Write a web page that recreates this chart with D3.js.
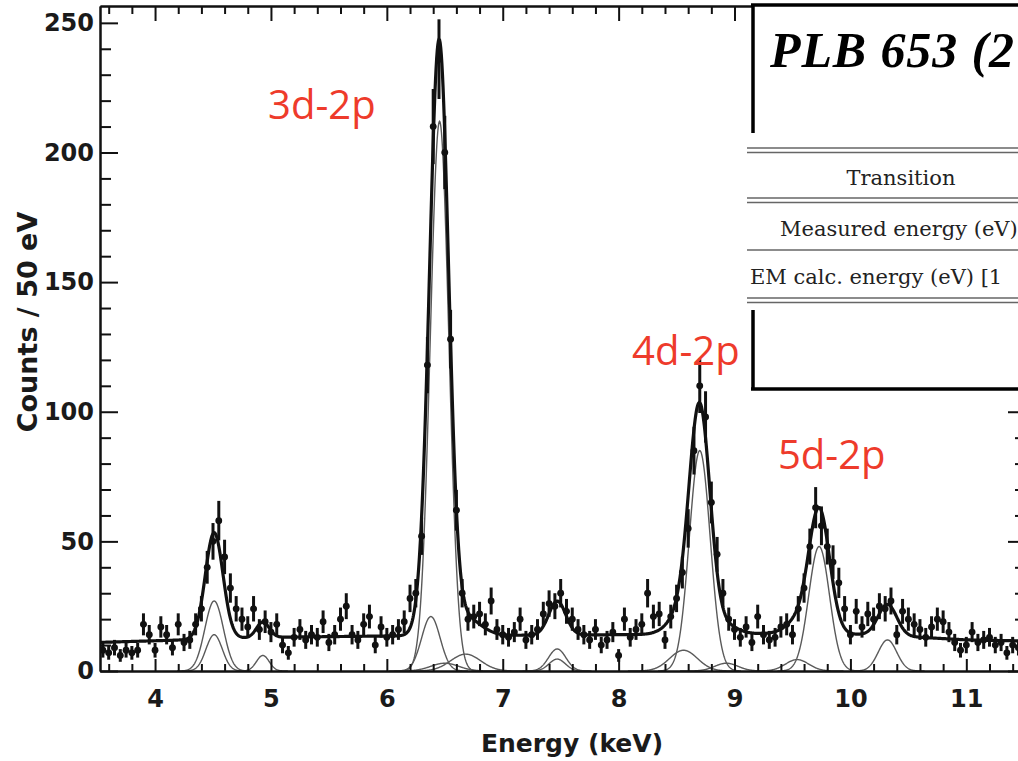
<!DOCTYPE html>
<html>
<head>
<meta charset="utf-8">
<script src="https://cdn.jsdelivr.net/npm/d3@7"></script>
<style>
  body { margin: 0; background: #fff; }
  .tick text { font-family: "DejaVu Sans"; font-weight: bold; font-size: 24px; fill: #1a1a1a; }
  .axis path, .axis line { stroke: #111; stroke-width: 2; }
</style>
</head>
<body>
<div id="chart"></div>
<script>
// histogram: counts per 50 eV bin, first bin centred at 3.55 keV
const binStart = 3.55;
const binWidth = 0.05;
const counts = [
  8, 7, 9, 6, 8, 7, 8, 18, 14, 8,
  17, 14, 9, 18, 11, 12, 18, 24, 40, 50,
  58, 44, 32, 24, 20, 17, 24, 16, 19, 15,
  18, 10, 7, 13, 16, 12, 14, 13, 19, 11,
  14, 20, 25, 14, 12, 18, 21, 10, 17, 13,
  14, 16, 19, 28, 30, 52, 118, 210, 236, 200,
  128, 62, 30, 20, 21, 22, 18, 27, 16, 14,
  13, 15, 20, 12, 14, 16, 22, 26, 25, 30,
  23, 20, 16, 14, 12, 16, 10, 12, 15, 6,
  20, 13, 16, 18, 30, 21, 22, 12, 21, 28,
  38, 55, 85, 110, 98, 65, 45, 30, 20, 16,
  13, 17, 11, 21, 14, 12, 13, 17, 18, 14,
  24, 32, 48, 63, 56, 48, 42, 34, 24, 14,
  23, 17, 22, 20, 25, 24, 27, 14, 23, 20,
  18, 16, 13, 17, 20, 19, 15, 11, 8, 10,
  15, 11, 12, 13, 10, 11, 7, 10, 9
];

// fitted line components (keV, counts, keV)
const peakCenter = [4.51, 4.51, 4.93, 6.38, 6.455, 6.68, 6.50, 7.47, 7.47, 8.56, 8.70, 8.93, 9.54, 9.73, 10.32];
const peakHeight = [27, 14, 6, 21, 212, 6.5, 3, 8.5, 4.6, 8, 85, 3, 4.4, 48, 12];
const peakSigma  = [0.08, 0.07, 0.055, 0.08, 0.08, 0.13, 0.12, 0.075, 0.07, 0.12, 0.09, 0.1, 0.1, 0.09, 0.08];

// background level of the fit
const bgEnergy = [3.5, 5.0, 6.0, 8.0, 9.5, 10.2, 11.0, 11.6];
const bgLevel  = [11, 13, 13.5, 14, 14.5, 14, 12, 11.5];

const xTicks = [4, 5, 6, 7, 8, 9, 10, 11];
const yTicks = [0, 50, 100, 150, 200, 250];

const lineNames  = ["3d-2p", "4d-2p", "5d-2p"];
const lineLabelE = [4.975, 8.116, 9.375];
const lineLabelC = [213, 118, 78];

const tableRows = ["Transition", "Measured energy (eV)", "EM calc. energy (eV) [1"];

const width = 1018;
const height = 761;

const x = d3.scaleLinear().domain([3.525, 11.515]).range([100, 1026]);
const y = d3.scaleLinear().domain([0, 256.5]).range([671, 6]);
const bg = d3.scaleLinear().domain(bgEnergy).range(bgLevel);

function gauss(e, i) {
  const d = e - peakCenter[i];
  return peakHeight[i] * Math.exp(-d * d / (2 * peakSigma[i] * peakSigma[i]));
}
function fitTotal(e) {
  return bg(e) + d3.sum(peakCenter, (c, i) => gauss(e, i));
}

const svg = d3.select("#chart")
  .append("svg")
    .attr("width", width)
    .attr("height", height);

svg.append("defs").append("clipPath").attr("id", "plot")
  .append("rect")
    .attr("x", 100).attr("y", 6)
    .attr("width", 926).attr("height", 665);

const plot = svg.append("g").attr("clip-path", "url(#plot)");

// components
const line = d3.line().x((d) => x(d[0])).y((d) => y(d[1]));
peakCenter.forEach((c, i) => {
  const pts = d3.range(c - 4 * peakSigma[i], c + 4 * peakSigma[i], 0.004).map((e) => [e, gauss(e, i)]);
  plot.append("path")
    .attr("d", line(pts))
    .attr("fill", "none")
    .attr("stroke", "#5a5a5a")
    .attr("stroke-width", 1.4);
});

// data points
const data = counts.map((c, i) => ({ e: binStart + i * binWidth, c: c, err: Math.sqrt(c) }));
const pts = plot.selectAll(".pt").data(data).enter()
  .append("g").attr("class", "pt");

pts.append("line")
  .attr("x1", (d) => x(d.e)).attr("x2", (d) => x(d.e))
  .attr("y1", (d) => y(d.c - d.err)).attr("y2", (d) => y(d.c + d.err))
  .attr("stroke", "#111").attr("stroke-width", 3);
pts.append("line")
  .attr("x1", (d) => x(d.e - binWidth / 2)).attr("x2", (d) => x(d.e + binWidth / 2))
  .attr("y1", (d) => y(d.c)).attr("y2", (d) => y(d.c))
  .attr("stroke", "#111").attr("stroke-width", 3);
pts.append("circle")
  .attr("cx", (d) => x(d.e)).attr("cy", (d) => y(d.c))
  .attr("r", 3.4).attr("fill", "#111");

// total fit
const grid = d3.range(3.53, 11.52, 0.005).map((e) => [e, fitTotal(e)]);
plot.append("path")
  .attr("d", line(grid))
  .attr("fill", "none")
  .attr("stroke", "#111")
  .attr("stroke-width", 3.2);

// axes
const minorY = d3.range(0, 256, 10).filter((v) => v % 50 !== 0);
const minorX = d3.range(36, 116, 2).map((v) => v / 10).filter((v) => v % 1 !== 0);

svg.append("g").attr("class", "axis")
  .attr("transform", "translate(100,0)")
  .call(d3.axisLeft(y).tickValues(yTicks).tickSizeInner(-18).tickSizeOuter(0).tickPadding(6));
svg.append("g").attr("class", "axis")
  .attr("transform", "translate(100,0)")
  .call(d3.axisLeft(y).tickValues(minorY).tickSizeInner(-11).tickSizeOuter(0).tickFormat(""));

svg.append("g").attr("class", "axis")
  .attr("transform", "translate(1026,0)")
  .call(d3.axisRight(y).tickValues(yTicks).tickSizeInner(-18).tickSizeOuter(0).tickFormat(""));
svg.append("g").attr("class", "axis")
  .attr("transform", "translate(1026,0)")
  .call(d3.axisRight(y).tickValues(minorY).tickSizeInner(-11).tickSizeOuter(0).tickFormat(""));

svg.append("g").attr("class", "axis")
  .attr("transform", "translate(0,671)")
  .call(d3.axisBottom(x).tickValues(xTicks).tickSizeInner(-12).tickSizeOuter(0).tickPadding(19));
svg.append("g").attr("class", "axis")
  .attr("transform", "translate(0,671)")
  .call(d3.axisBottom(x).tickValues(minorX).tickSizeInner(-7).tickSizeOuter(0).tickFormat(""));

svg.append("g").attr("class", "axis")
  .attr("transform", "translate(0,6)")
  .call(d3.axisTop(x).tickValues(xTicks).tickSizeInner(-15).tickSizeOuter(0).tickFormat(""));
svg.append("g").attr("class", "axis")
  .attr("transform", "translate(0,6)")
  .call(d3.axisTop(x).tickValues(minorX).tickSizeInner(-8).tickSizeOuter(0).tickFormat(""));

svg.selectAll(".axis .domain").attr("stroke-width", 2.6);

// axis titles
svg.append("text")
  .text("Energy (keV)")
  .attr("x", 572).attr("y", 752)
  .attr("text-anchor", "middle")
  .style("font-family", "DejaVu Sans").style("font-weight", "bold").style("font-size", "25px")
  .attr("fill", "#1a1a1a");

svg.append("text")
  .text("Counts / 50 eV")
  .attr("transform", "translate(37,322) rotate(-90)")
  .attr("text-anchor", "middle")
  .style("font-family", "DejaVu Sans").style("font-weight", "bold").style("font-size", "27px")
  .attr("fill", "#1a1a1a");

// transition labels
svg.selectAll(".lbl").data(lineNames).enter()
  .append("text")
    .attr("class", "lbl")
    .text((d) => d)
    .attr("x", (d, i) => x(lineLabelE[i]))
    .attr("y", (d, i) => y(lineLabelC[i]))
    .style("font-family", "Open Sans").style("font-size", "40px")
    .attr("fill", "#ee3b2b");

// reference box
const box = svg.append("g").attr("class", "box");
box.append("rect")
  .attr("x", 753).attr("y", 5).attr("width", 280).attr("height", 384)
  .attr("fill", "#fff");
box.append("rect")
  .attr("x", 747).attr("y", 133).attr("width", 290).attr("height", 177)
  .attr("fill", "#fff");
[[751, 5, 1030, 5], [753, 4, 753, 133], [753, 310, 753, 390], [751, 389, 1030, 389]].forEach((l) => {
  box.append("line")
    .attr("x1", l[0]).attr("y1", l[1]).attr("x2", l[2]).attr("y2", l[3])
    .attr("stroke", "#000").attr("stroke-width", 3.5);
});
box.append("text")
  .text("PLB 653 (2")
  .attr("x", 770).attr("y", 67)
  .attr("textLength", 244)
  .attr("lengthAdjust", "spacing")
  .style("font-family", "Liberation Serif").style("font-weight", "bold").style("font-style", "italic")
  .style("font-size", "50px")
  .attr("fill", "#000");

[148, 152.5, 198, 202.5, 250, 298, 302.5].forEach((ly) => {
  box.append("line")
    .attr("x1", 747).attr("x2", 1030).attr("y1", ly).attr("y2", ly)
    .attr("stroke", "#666").attr("stroke-width", 1.4);
});
box.selectAll(".row").data(tableRows).enter()
  .append("text")
    .attr("class", "row")
    .text((d) => d)
    .attr("x", (d, i) => i === 0 ? 901 : (i === 1 ? 780 : 750))
    .attr("y", (d, i) => [185, 236, 284][i])
    .attr("text-anchor", (d, i) => i === 0 ? "middle" : "start")
    .style("font-family", "DejaVu Serif").style("font-size", "21px")
    .attr("fill", "#222");
</script>
</body>
</html>
